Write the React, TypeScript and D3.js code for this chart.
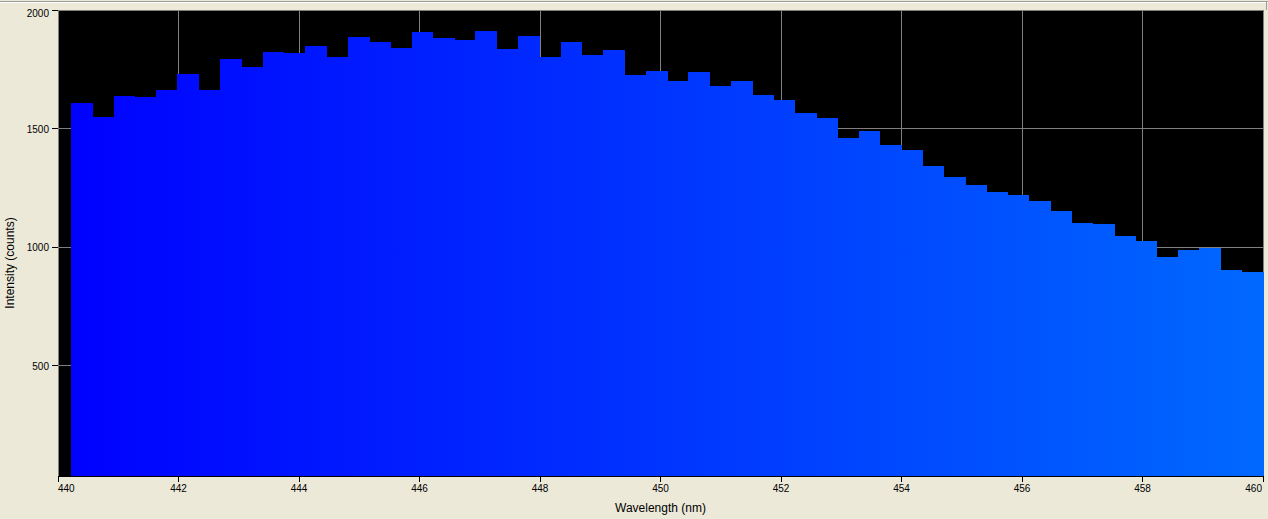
import React from "react";
import * as d3 from "d3";

const binEdges: number[] = [
  440.216, 440.569, 440.923, 441.276, 441.629, 441.982, 442.336, 442.689, 443.042, 443.396,
  443.749, 444.102, 444.455, 444.809, 445.162, 445.515, 445.869, 446.222, 446.575, 446.929,
  447.282, 447.635, 447.988, 448.342, 448.695, 449.048, 449.402, 449.755, 450.108, 450.461,
  450.815, 451.168, 451.521, 451.875, 452.228, 452.581, 452.934, 453.288, 453.641, 453.994,
  454.348, 454.701, 455.054, 455.408, 455.761, 456.114, 456.467, 456.821, 457.174, 457.527,
  457.881, 458.234, 458.587, 458.940, 459.294, 459.647, 460.0,
];

const intensity: number[] = [
  1609, 1550, 1639, 1634, 1664, 1731, 1664, 1795, 1761, 1824,
  1820, 1849, 1803, 1887, 1866, 1841, 1908, 1883, 1875, 1913,
  1837, 1892, 1803, 1866, 1811, 1833, 1727, 1744, 1702, 1740,
  1681, 1702, 1643, 1622, 1567, 1546, 1461, 1491, 1432, 1411,
  1343, 1297, 1263, 1234, 1221, 1196, 1154, 1103, 1099, 1048,
  1027, 960, 989, 998, 905, 897,
];

const xTicks: number[] = [440, 442, 444, 446, 448, 450, 452, 454, 456, 458, 460];
const yTicks: number[] = [500, 1000, 1500, 2000];
const xDomain: [number, number] = [440, 460];
const yDomain: [number, number] = [36, 2000];
const xTitle = "Wavelength (nm)";
const yTitle = "Intensity (counts)";

const W = 1268;
const H = 519;
const left = 58;
const right = 1263;
const top = 10;
const bottom = 476;

export default function App() {
  const x = d3.scaleLinear().domain(xDomain).range([left, right]);
  const y = d3.scaleLinear().domain(yDomain).range([bottom, top]);
  const font = "'Liberation Sans', Arial, sans-serif";

  const bars = intensity.map((v, i) => ({
    x0: x(binEdges[i]),
    x1: x(binEdges[i + 1]),
    y: y(v),
  }));

  return (
    <div style={{ position: "absolute", left: 0, top: 0 }}>
      <svg width={W} height={H} style={{ display: "block" }}>
        <defs>
          <linearGradient id="barGrad" gradientUnits="userSpaceOnUse" x1={left} y1={0} x2={right} y2={0}>
            <stop offset="0%" stopColor="#0000ff" />
            <stop offset="100%" stopColor="#0068ff" />
          </linearGradient>
        </defs>
        <rect x={0} y={0} width={W} height={H} fill="#ece9d8" />
        <line x1={0} x2={W} y1={1.5} y2={1.5} stroke="#9a9a9a" />
        <line x1={0} x2={W} y1={2.5} y2={2.5} stroke="#ffffff" />
        <line x1={1266.5} x2={1266.5} y1={2} y2={10} stroke="#9a9a9a" />
        {/* plot background */}
        <rect x={left} y={top} width={right - left} height={bottom - top} fill="#000000" />
        {/* grid */}
        <g shapeRendering="crispEdges" stroke="#808080" strokeWidth={1}>
          {xTicks.map((t) => (
            <line key={"gx" + t} x1={x(t)} x2={x(t)} y1={top} y2={bottom} />
          ))}
          {yTicks.map((t) => (
            <line key={"gy" + t} x1={left} x2={right} y1={y(t)} y2={y(t)} />
          ))}
        </g>
        {/* bars */}
        <g shapeRendering="crispEdges">
          {bars.map((b, i) => (
            <rect key={i} x={b.x0} y={b.y} width={b.x1 - b.x0 + 0.5} height={bottom - b.y} fill="url(#barGrad)" />
          ))}
        </g>
        {/* axes */}
        <g shapeRendering="crispEdges" stroke="#000">
          <line x1={left} x2={right + 1} y1={bottom} y2={bottom} />
          {xTicks.map((t) => (
            <line key={"tx" + t} x1={x(t)} x2={x(t)} y1={bottom} y2={bottom + 6} />
          ))}
          {yTicks.map((t) => (
            <line key={"ty" + t} x1={left - 6} x2={left} y1={y(t)} y2={y(t)} />
          ))}
        </g>
        <g fontFamily={font} fontSize={10} fill="#000">
          {xTicks.map((t, i) => {
            const first = i === 0;
            const last = i === xTicks.length - 1;
            return (
              <text
                key={"lx" + t}
                x={first ? x(t) : last ? x(t) - 1 : x(t)}
                y={492}
                textAnchor={first ? "start" : last ? "end" : "middle"}
              >
                {t}
              </text>
            );
          })}
          {yTicks.map((t) => (
            <text key={"ly" + t} x={left - 9} y={Math.max(y(t) + 4, 17)} textAnchor="end">
              {t}
            </text>
          ))}
        </g>
        <text x={(left + right) / 2} y={512} textAnchor="middle" fontFamily={font} fontSize={12} fill="#000">
          {xTitle}
        </text>
        <text
          transform={`translate(14, ${(top + bottom) / 2 + 20}) rotate(-90)`}
          textAnchor="middle"
          fontFamily={font}
          fontSize={12}
          fill="#000"
        >
          {yTitle}
        </text>
      </svg>
    </div>
  );
}
